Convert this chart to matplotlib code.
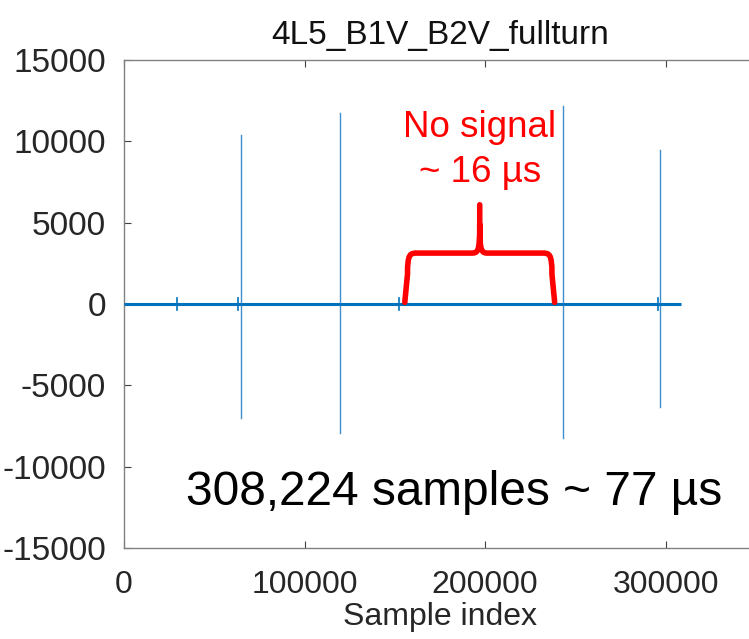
import matplotlib
matplotlib.use("Agg")
import matplotlib.pyplot as plt
import numpy as np
from matplotlib.path import Path
from matplotlib.patches import PathPatch

plt.rcParams['font.family'] = ['Liberation Sans', 'DejaVu Sans']
plt.rcParams['axes.unicode_minus'] = False

# Full-turn acquisition: sample count and bunch spikes
n_samples = 308224
spike_pos = [64600, 119500, 243000, 296600]
spike_top = [10400, 11750, 12200, 9450]
spike_bot = [-7030, -7910, -8260, -6350]

# small pickup blips along the baseline
blip_pos = [29200, 63300, 152200, 295900]
blip_amp = [350, 350, 350, 350]

# quiet stretch highlighted by the brace
gap_start = 155500
gap_end = 238500

line_color = '#0072BD'
spike_color = '#3d8fd0'

fig = plt.figure(figsize=(7.49, 6.39), dpi=100)
ax = fig.add_axes([124/749, (639-548)/639, (756-124)/749, 488/639])

# baseline
ax.plot([0, n_samples], [0, 0], color=line_color, lw=2.2, solid_capstyle='butt', zorder=3)

# spikes: vertical excursions from the baseline
xs, ys = [], []
for p, t, b in zip(spike_pos, spike_top, spike_bot):
    xs += [p, p, np.nan]
    ys += [t, b, np.nan]
ax.plot(xs, ys, color=spike_color, lw=1.0, zorder=2)

bx, by = [], []
for p, a in zip(blip_pos, blip_amp):
    bx += [p, p, np.nan]
    by += [a, -a, np.nan]
ax.plot(bx, by, color=line_color, lw=1.2, zorder=3)

ax.set_xlim(0, 350000)
ax.set_ylim(-15000, 15000)
ax.set_xticks([0, 100000, 200000, 300000])
ax.set_yticks(np.arange(-15000, 15001, 5000))
ax.set_xticklabels(['0', '100000', '200000', '300000'])
ax.tick_params(axis='both', direction='in', length=5, width=0.8, colors='#404040',
               labelcolor='#262626', top=True, right=True)
ax.tick_params(axis='y', pad=13, labelsize=24)
ax.tick_params(axis='x', pad=16, labelsize=23)
for s in ax.spines.values():
    s.set_color('#808080')
    s.set_linewidth(1.0)

ax.set_xlabel('Sample index', fontsize=23, color='#262626', labelpad=1)
ax.set_title('4L5_B1V_B2V_fullturn', fontsize=24, color='#111111', pad=11.5)

# brace over the quiet stretch
mid = (gap_start + gap_end) / 2
y0, yh, ytip = 100, 3130, 6100
dx = 5000
dy = 1300
verts = [
    (gap_start, y0),
    (gap_start + 1500, yh - dy),
    (gap_start + 1500, yh), (gap_start + 3000, yh), (gap_start + dx + 2000, yh),
    (mid - dx, yh),
    (mid - 1000, yh), (mid, yh), (mid, ytip - 1200),
    (mid, ytip),
    (mid, ytip - 1200),
    (mid, yh), (mid + 1000, yh), (mid + dx, yh),
    (gap_end - dx - 2000, yh),
    (gap_end - 3000, yh), (gap_end - 1500, yh), (gap_end - 1500, yh - dy),
    (gap_end, y0),
]
codes = [Path.MOVETO, Path.LINETO,
         Path.CURVE4, Path.CURVE4, Path.CURVE4,
         Path.LINETO,
         Path.CURVE4, Path.CURVE4, Path.CURVE4,
         Path.LINETO,
         Path.MOVETO,
         Path.CURVE4, Path.CURVE4, Path.CURVE4,
         Path.LINETO,
         Path.CURVE4, Path.CURVE4, Path.CURVE4,
         Path.LINETO]
ax.add_patch(PathPatch(Path(verts, codes), facecolor='none', edgecolor='#ff0000',
                       lw=4, capstyle='round', joinstyle='round', zorder=4))

ax.text(mid, 10265, 'No signal', color='#ff0000', fontsize=26.5,
        ha='center', va='baseline', zorder=5)
ax.text(mid, 7500, '~ 16 µs', color='#ff0000', fontsize=26.5,
        ha='center', va='baseline', zorder=5)
ax.text(182600, -11600, '308,224 samples ~ 77 µs', color='black',
        fontsize=34.4, ha='center', va='center', zorder=5)

fig.savefig('out.png', dpi=100)
